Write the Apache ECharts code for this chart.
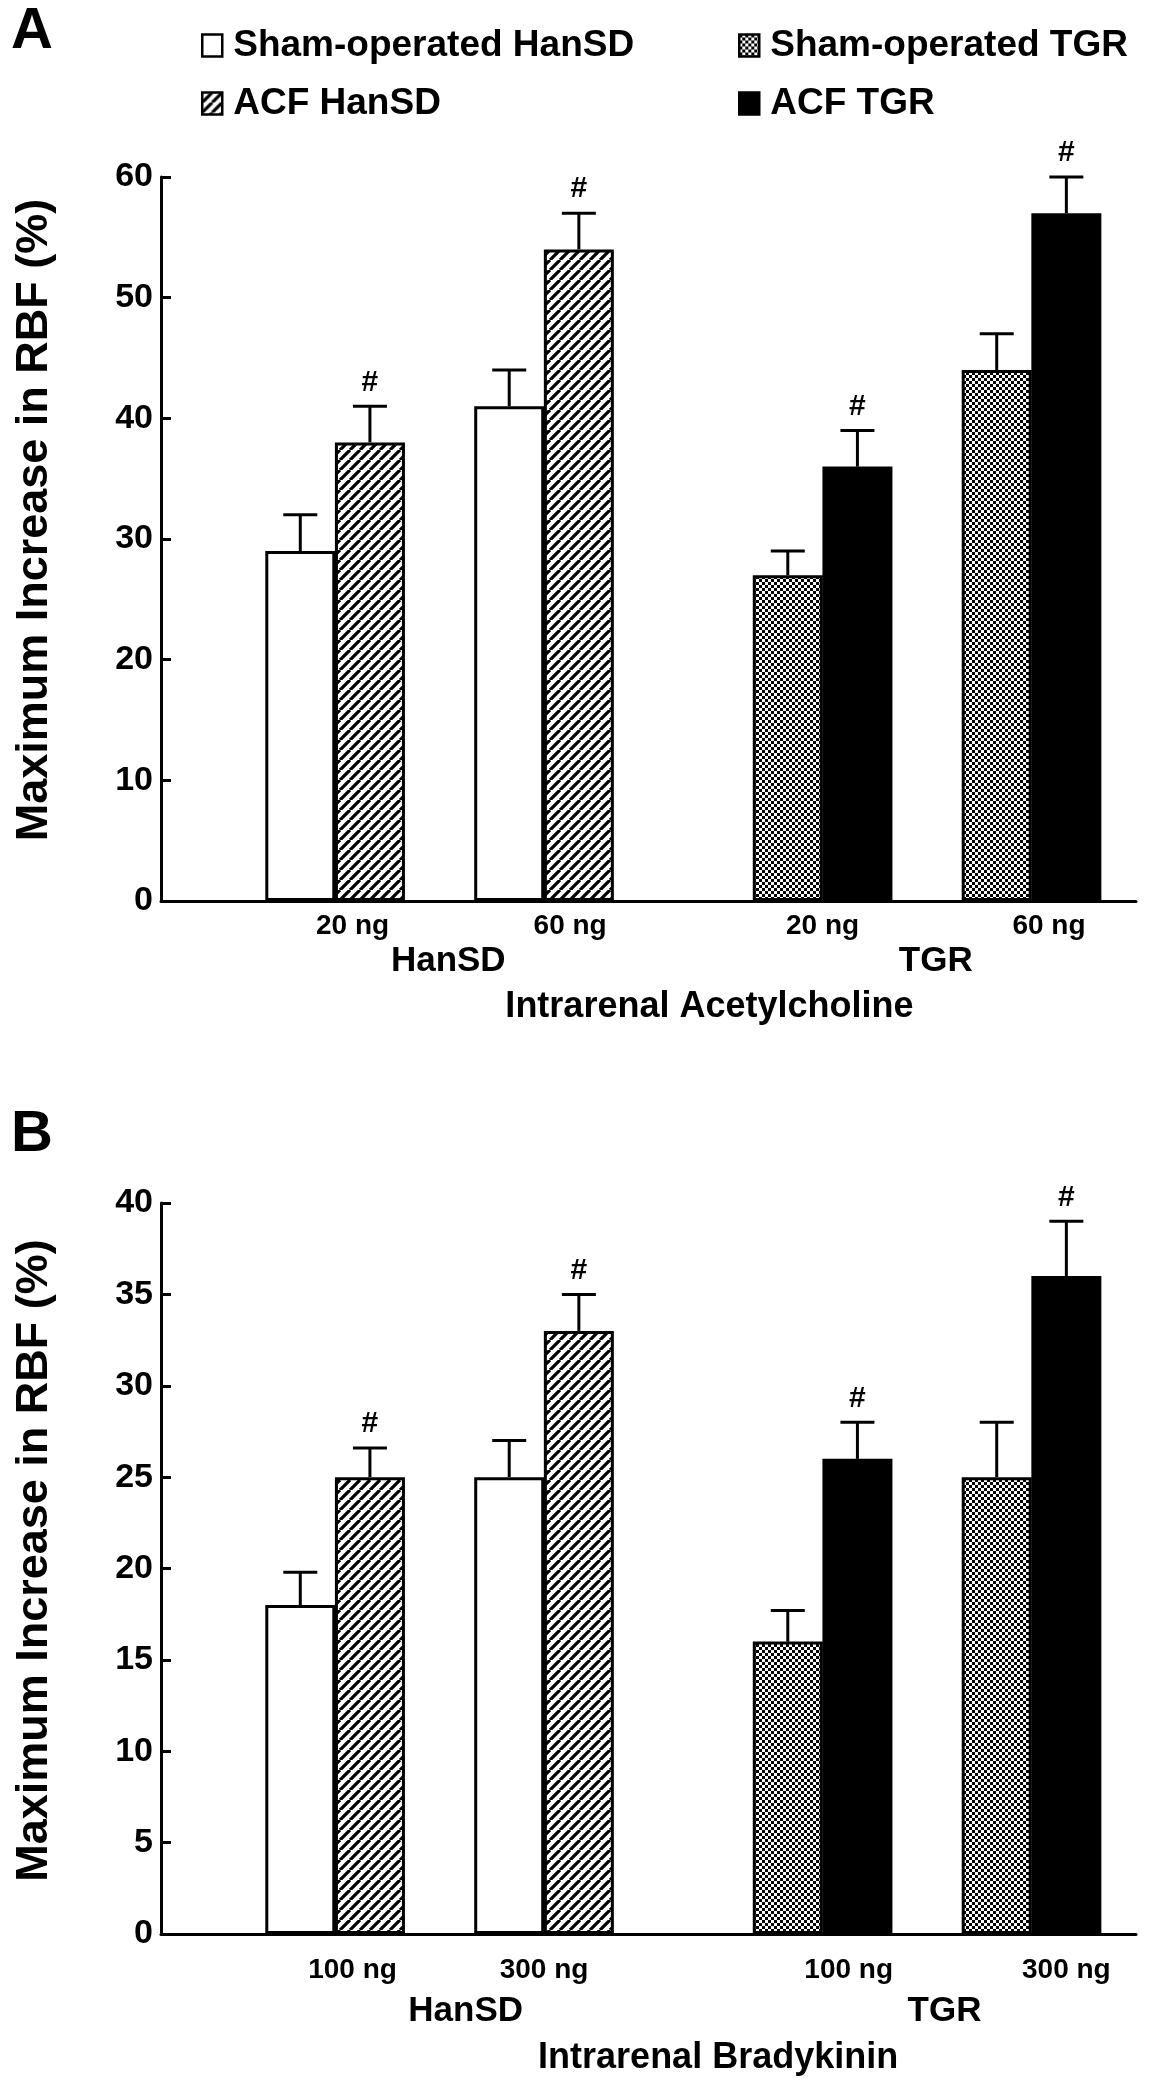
<!DOCTYPE html>
<html><head><meta charset="utf-8">
<script src="https://cdn.jsdelivr.net/npm/echarts@6/dist/echarts.min.js"></script>
<style>html,body{margin:0;padding:0;background:#fff}#c{width:1151px;height:2100px}</style>
</head><body><div id="c"></div>
<script>
// ---------------- DATA ----------------
const seriesNames = ['Sham-operated HanSD', 'ACF HanSD', 'Sham-operated TGR', 'ACF TGR'];
const strains = ['HanSD', 'TGR'];
const dosesA = ['20 ng', '60 ng'];
const dosesB = ['100 ng', '300 ng'];
const xTitleA = 'Intrarenal Acetylcholine';
const xTitleB = 'Intrarenal Bradykinin';
const yTitle = 'Maximum Increase in RBF (%)';
const yScaleA = { min: 0, max: 60, interval: 10 };
const yScaleB = { min: 0, max: 40, interval: 5 };

// Panel A (Acetylcholine): means and SEM per dose
const shamHanA = [29, 41];  const shamHanA_err = [3, 3];
const acfHanA  = [38, 54];  const acfHanA_err  = [3, 3];
const shamTgrA = [27, 44];  const shamTgrA_err = [2, 3];
const acfTgrA  = [36, 57];  const acfTgrA_err  = [3, 3];

// Panel B (Bradykinin): means and SEM per dose
const shamHanB = [18, 25];  const shamHanB_err = [1.8, 2];
const acfHanB  = [25, 33];  const acfHanB_err  = [1.6, 2];
const shamTgrB = [16, 25];  const shamTgrB_err = [1.7, 3];
const acfTgrB  = [26, 36];  const acfTgrB_err  = [2, 3];

// '#' significance marker per series (ACF vs sham)
const sigMark = [false, true, false, true];

// ---------------- LAYOUT ----------------
const FONT = '"Liberation Sans", Arial, Helvetica, sans-serif';
const LAYOUT = { lead: 2, doseGap: 1, strainGap: 2, trail: 1, sub: 8 };
function buildSlots() {
  const cats = [], pos = [];
  for (let i = 0; i < LAYOUT.lead; i++) cats.push('');
  strains.forEach((s, si) => {
    pos.push([]);
    for (let d = 0; d < 2; d++) {
      pos[si].push(cats.length);
      cats.push(s + d + 'a', s + d + 'b');
      if (d < 1) for (let i = 0; i < LAYOUT.doseGap; i++) cats.push('');
    }
    if (si < strains.length - 1) for (let i = 0; i < LAYOUT.strainGap; i++) cats.push('');
  });
  for (let i = 0; i < LAYOUT.trail; i++) cats.push('');
  return { cats, pos };
}
const SL = buildSlots();
const NFINE = (SL.cats.length - 1) * LAYOUT.sub + 1;

function makePattern(kind) {
  const c = document.createElement('canvas');
  const g = c.getContext('2d');
  if (kind === 'hatch') {
    const s = 10; c.width = s; c.height = s;
    g.fillStyle = '#fff'; g.fillRect(0, 0, s, s);
    g.strokeStyle = '#000'; g.lineWidth = 3.2; g.beginPath();
    for (const x of [-s, 0, s]) { g.moveTo(x, s); g.lineTo(x + s, 0); }
    g.stroke();
  } else {
    const s = 6; c.width = s; c.height = s;
    g.fillStyle = '#fff'; g.fillRect(0, 0, s, s);
    g.fillStyle = '#000'; g.fillRect(0, 0, 3, 3); g.fillRect(3, 3, 3, 3);
  }
  return { image: c, repeat: 'repeat' };
}
const fills = ['#ffffff', makePattern('hatch'), makePattern('check'), '#000000'];

function fineData(entries) {
  const a = new Array(NFINE).fill('');
  entries.forEach(([i, t]) => { a[i] = t; });
  return a;
}
const half = LAYOUT.sub / 2;
function pairCenter(si, d) { return SL.pos[si][d] * LAYOUT.sub + half; }
function strainCenter(si) { return (pairCenter(si, 0) + pairCenter(si, 1)) / 2; }

function buildPanel(gi, doses, vals, errs, lab) {
  const xBase = gi * 4;
  const hidden = { axisLine: { show: false }, axisTick: { show: false } };
  const xAxes = [
    { type: 'category', gridIndex: gi, data: SL.cats, boundaryGap: false,
      axisLine: { show: true, lineStyle: { color: '#000', width: 3 } },
      axisTick: { show: false }, axisLabel: { show: false } },
    Object.assign({ type: 'category', gridIndex: gi, position: 'bottom', boundaryGap: false,
      data: fineData([[pairCenter(0, 0) + lab.dose[0], doses[0]], [pairCenter(0, 1) + lab.dose[1], doses[1]],
                      [pairCenter(1, 0) + lab.dose[2], doses[0]], [pairCenter(1, 1) + lab.dose[3], doses[1]]]),
      axisLabel: { interval: 0, fontSize: 28, fontWeight: 'bold', color: '#000', fontFamily: FONT, margin: lab.doseMargin } }, hidden),
    Object.assign({ type: 'category', gridIndex: gi, position: 'bottom', boundaryGap: false,
      data: fineData([[strainCenter(0) + lab.strain[0], strains[0]], [strainCenter(1) + lab.strain[1], strains[1]]]),
      axisLabel: { interval: 0, fontSize: 35, fontWeight: 'bold', color: '#000', fontFamily: FONT, margin: lab.strainMargin } }, hidden),
    Object.assign({ type: 'category', gridIndex: gi, position: 'bottom', boundaryGap: false,
      data: fineData([[(NFINE - 1) / 2 + lab.title, lab.titleText]]),
      axisLabel: { interval: 0, fontSize: 36, fontWeight: 'bold', color: '#000', fontFamily: FONT, margin: lab.titleMargin } }, hidden)
  ];
  const series = [];
  seriesNames.forEach((name, k) => {
    const si = k < 2 ? 0 : 1; const off = k % 2;
    const data = new Array(SL.cats.length).fill('-');
    const errItems = [];
    for (let d = 0; d < 2; d++) {
      const idx = SL.pos[si][d] + off;
      data[idx] = vals[k][d];
      errItems.push([idx, vals[k][d], errs[k][d], sigMark[k] ? 1 : 0]);
    }
    series.push({
      type: 'bar', name, xAxisIndex: xBase, yAxisIndex: gi, data,
      barWidth: 70, barGap: '-100%', silent: true, animation: false,
      itemStyle: { color: fills[k], borderColor: '#000', borderWidth: 3 }
    });
    series.push({
      type: 'custom', name: 'err' + gi + k, xAxisIndex: xBase, yAxisIndex: gi, z: 5,
      silent: true, animation: false, data: errItems,
      renderItem(params, api) {
        const x = api.value(0), m = api.value(1), e = api.value(2), s = api.value(3);
        const b = api.coord([x, m]); const t = api.coord([x, m + e]);
        const ch = [
          { type: 'line', shape: { x1: b[0], y1: b[1], x2: t[0], y2: t[1] }, style: { stroke: '#000', lineWidth: 3 } },
          { type: 'line', shape: { x1: t[0] - 17, y1: t[1], x2: t[0] + 17, y2: t[1] }, style: { stroke: '#000', lineWidth: 3 } }
        ];
        if (s) ch.push({ type: 'text', style: { text: '#', x: t[0], y: t[1] - 9, align: 'center', verticalAlign: 'bottom',
                         font: 'bold 30px ' + FONT, fill: '#000' } });
        return { type: 'group', children: ch };
      }
    });
  });
  return { xAxes, series };
}

const pA = buildPanel(0, dosesA, [shamHanA, acfHanA, shamTgrA, acfTgrA], [shamHanA_err, acfHanA_err, shamTgrA_err, acfTgrA_err],
  { dose: [2, 3, 0, 2], doseMargin: 11, strain: [1, 1], strainMargin: 43, title: 7, titleText: xTitleA, titleMargin: 88 });
const pB = buildPanel(1, dosesB, [shamHanB, acfHanB, shamTgrB, acfTgrB], [shamHanB_err, acfHanB_err, shamTgrB_err, acfTgrB_err],
  { dose: [2, 0, 3, 4], doseMargin: 22, strain: [3, 2], strainMargin: 60, title: 8, titleText: xTitleB, titleMargin: 106 });

function yAxis(gi, sc, shift) {
  return { type: 'value', gridIndex: gi, min: sc.min, max: sc.max, interval: sc.interval,
    axisLine: { show: true, lineStyle: { color: '#000', width: 3 } },
    axisTick: { show: true, inside: true, length: 10, lineStyle: { color: '#000', width: 3 } },
    axisLabel: { fontSize: 34, fontWeight: 'bold', color: '#000', fontFamily: FONT, margin: 8 },
    splitLine: { show: false },
    name: yTitle, nameLocation: 'middle', nameGap: 104,
    nameTextStyle: { fontSize: 45, fontWeight: 'bold', color: '#000', fontFamily: FONT, padding: [0, 0, 0, shift] } };
}

const legendText = { fontSize: 37, fontWeight: 'bold', color: '#000', fontFamily: FONT, padding: [0, 0, 0, 6] };
const legendBase = { top: 27, orient: 'vertical', padding: 0, itemGap: 21, itemWidth: 20, itemHeight: 22, icon: 'rect',
  selectedMode: false, textStyle: legendText, itemStyle: { borderColor: '#000', borderWidth: 2.5 } };
const option = {
  backgroundColor: '#fff',
  animation: false,
  title: [
    { text: 'A', left: 6, top: -2, textStyle: { fontSize: 58, fontWeight: 'bold', color: '#000', fontFamily: FONT } },
    { text: 'B', left: 6, top: 1101, textStyle: { fontSize: 58, fontWeight: 'bold', color: '#000', fontFamily: FONT } }
  ],
  legend: [
    Object.assign({ left: 201, data: [seriesNames[0], seriesNames[1]] }, legendBase),
    Object.assign({ left: 738, data: [seriesNames[2], seriesNames[3]] }, legendBase)
  ],
  grid: [
    { left: 161, top: 177, width: 975, height: 724, containLabel: false },
    { left: 161, top: 1203, width: 975, height: 731, containLabel: false }
  ],
  xAxis: [...pA.xAxes, ...pB.xAxes],
  yAxis: [yAxis(0, yScaleA, 38), yAxis(1, yScaleB, 16)],
  series: [...pA.series, ...pB.series]
};
const chart = echarts.init(document.getElementById('c'), null, { renderer: 'canvas' });
chart.setOption(option);
</script>
</body></html>
